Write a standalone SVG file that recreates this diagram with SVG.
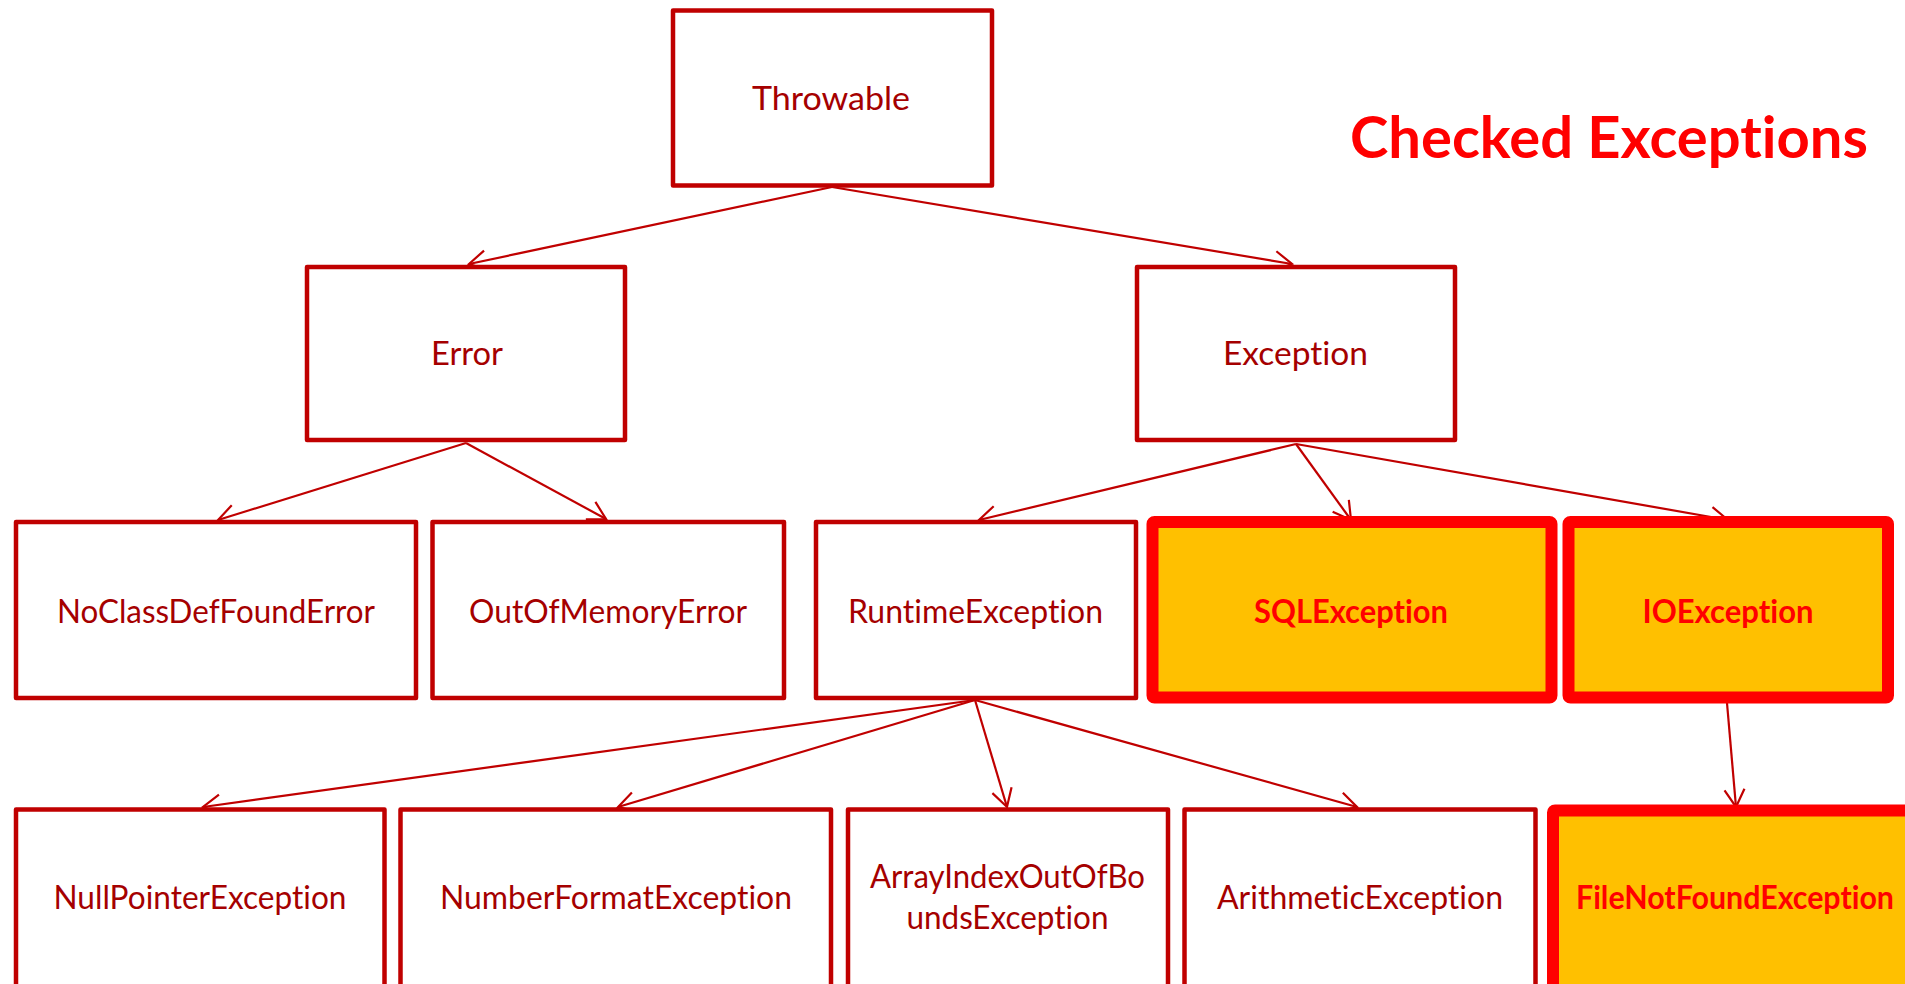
<svg xmlns="http://www.w3.org/2000/svg" width="1905" height="984" viewBox="0 0 1905 984">
  <style>
    .box { fill: #FFFFFF; stroke: #C00000; stroke-width: 4.5; stroke-linejoin: round; }
    .chk { fill: #FFC000; stroke: #FF0000; stroke-width: 12; stroke-linejoin: round; }
    text { font-variant-ligatures: none; font-feature-settings: "liga" 0, "clig" 0; }
    .lbl { font-family: Lato, "Open Sans", "Liberation Sans", sans-serif; font-size: 32px; fill: #A50000; text-anchor: middle; }
    .lblb { font-family: Lato, "Open Sans", "Liberation Sans", sans-serif; font-size: 32px; font-weight: bold; fill: #FF0000; text-anchor: middle; }
    .title { font-family: Lato, "Open Sans", "Liberation Sans", sans-serif; font-size: 58px; font-weight: bold; fill: #FF0000; }
    .edge { fill: none; stroke: #C00000; stroke-width: 2.2; marker-end: url(#arrow); }
  </style>
  <defs>
    <marker id="arrow" markerUnits="userSpaceOnUse" markerWidth="40" markerHeight="40" refX="0" refY="0" viewBox="-20 -20 40 40" orient="auto" overflow="visible">
      <path d="M -17.5,-10 L 0,0 L -17.5,10" fill="none" stroke="#C00000" stroke-width="2.2" stroke-linejoin="miter"/>
    </marker>
  </defs>

  <rect x="0" y="0" width="1905" height="984" fill="#FFFFFF"/>

  <!-- connectors -->
  <g id="connectors">
    <line class="edge" x1="832" y1="187" x2="469" y2="264"/>
    <line class="edge" x1="832" y1="187" x2="1292" y2="264"/>
    <line class="edge" x1="466" y1="443" x2="218" y2="520"/>
    <line class="edge" x1="466" y1="443" x2="606" y2="519"/>
    <line class="edge" x1="1296" y1="444" x2="979" y2="520"/>
    <line class="edge" x1="1296" y1="444" x2="1351" y2="520"/>
    <line class="edge" x1="1296" y1="444" x2="1728" y2="520"/>
    <line class="edge" x1="975" y1="700" x2="203" y2="807"/>
    <line class="edge" x1="975" y1="700" x2="618" y2="807"/>
    <line class="edge" x1="975" y1="700" x2="1007" y2="807"/>
    <line class="edge" x1="975" y1="700" x2="1357" y2="807"/>
    <line class="edge" x1="1727" y1="703" x2="1736" y2="807"/>
  </g>

  <g id="throwable">
    <rect class="box" x="673" y="10.5" width="319" height="175"/>
    <text class="lbl" x="831" y="110" textLength="158" lengthAdjust="spacingAndGlyphs">Throwable</text>
  </g>

  <g id="error">
    <rect class="box" x="307" y="267" width="318" height="173"/>
    <text class="lbl" x="467" y="365" textLength="72" lengthAdjust="spacingAndGlyphs">Error</text>
  </g>

  <g id="exception">
    <rect class="box" x="1137" y="267" width="318" height="173"/>
    <text class="lbl" x="1295.5" y="365" textLength="145" lengthAdjust="spacingAndGlyphs">Exception</text>
  </g>

  <g id="noclassdeffounderror">
    <rect class="box" x="16" y="522" width="400" height="176"/>
    <text class="lbl" x="216" y="622.5" textLength="318" lengthAdjust="spacingAndGlyphs">NoClassDefFoundError</text>
  </g>

  <g id="outofmemoryerror">
    <rect class="box" x="432.5" y="522" width="351.5" height="176"/>
    <text class="lbl" x="608" y="622.5" textLength="278" lengthAdjust="spacingAndGlyphs">OutOfMemoryError</text>
  </g>

  <g id="runtimeexception">
    <rect class="box" x="816" y="522" width="320" height="176"/>
    <text class="lbl" x="975.5" y="622.5" textLength="255" lengthAdjust="spacingAndGlyphs">RuntimeException</text>
  </g>

  <g id="sqlexception">
    <rect class="chk" x="1152.5" y="522" width="399" height="175.5" rx="2"/>
    <text class="lblb" x="1351" y="622.5" textLength="194" lengthAdjust="spacingAndGlyphs">SQLException</text>
  </g>

  <g id="ioexception">
    <rect class="chk" x="1568.5" y="522" width="319.5" height="175.5" rx="2"/>
    <text class="lblb" x="1728" y="622.5" textLength="171" lengthAdjust="spacingAndGlyphs">IOException</text>
  </g>

  <g id="nullpointerexception">
    <rect class="box" x="16" y="809.5" width="368.5" height="220"/>
    <text class="lbl" x="200" y="909.3" textLength="293" lengthAdjust="spacingAndGlyphs">NullPointerException</text>
  </g>

  <g id="numberformatexception">
    <rect class="box" x="400.5" y="809.5" width="430.5" height="220"/>
    <text class="lbl" x="616" y="909.3" textLength="352" lengthAdjust="spacingAndGlyphs">NumberFormatException</text>
  </g>

  <g id="arrayindexoutofboundsexception">
    <rect class="box" x="848" y="809.5" width="320" height="220"/>
    <text class="lbl" x="1007.5" y="888.3" textLength="275" lengthAdjust="spacingAndGlyphs">ArrayIndexOutOfBo</text>
    <text class="lbl" x="1007.5" y="929.3" textLength="202" lengthAdjust="spacingAndGlyphs">undsException</text>
  </g>

  <g id="arithmeticexception">
    <rect class="box" x="1184.5" y="809.5" width="351" height="220"/>
    <text class="lbl" x="1360" y="909.3" textLength="286" lengthAdjust="spacingAndGlyphs">ArithmeticException</text>
  </g>

  <g id="filenotfoundexception">
    <rect class="chk" x="1553" y="810.5" width="400" height="220" rx="2"/>
    <text class="lblb" x="1735" y="909.3" textLength="318" lengthAdjust="spacingAndGlyphs">FileNotFoundException</text>
  </g>

  <text class="title" x="1350" y="157.5" textLength="518" lengthAdjust="spacingAndGlyphs">Checked Exceptions</text>
</svg>
